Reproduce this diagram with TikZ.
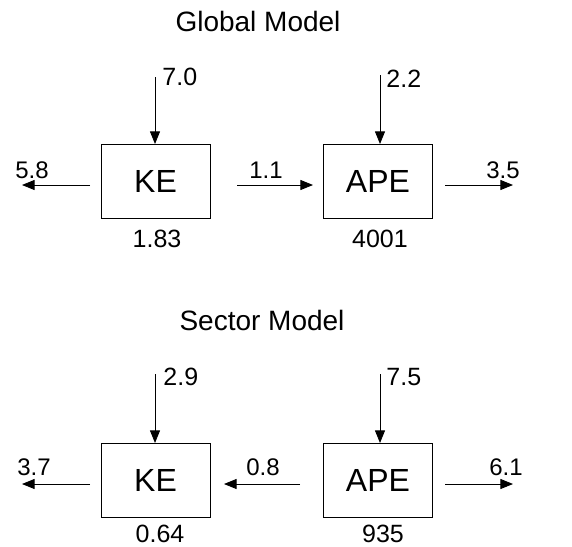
\documentclass[tikz,border=0pt]{standalone}
\usepackage{fontspec}
\setmainfont{Liberation Sans}
\usetikzlibrary{arrows.meta}
\tikzset {>={Triangle[length=6.3pt,width=5pt]}}

\begin{document}
\begin{tikzpicture}[x=0.5pt,y=-0.5pt,
  box/.style={draw,line width=0.5pt,minimum width=54.5pt,minimum height=37pt,inner sep=0pt,font=\fontsize{16}{18}\selectfont},
  flow/.style={->,line width=0.45pt},
  title/.style={font=\fontsize{14}{16}\selectfont,anchor=base,inner sep=0pt},
  num/.style={font=\fontsize{12.5}{14}\selectfont,inner sep=0pt,anchor=base},
  side/.style={font=\fontsize{12}{14}\selectfont,inner sep=0pt,anchor=base}]
\useasboundingbox (0,0) rectangle (572,546);
% global model
\node[title] (gTitle) at (258,32) {Global Model};
\node[box] (gKE) at (155.5,181.5) {KE};
\node[box] (gAPE) at (378,181.5) {APE};
\coordinate (gKEin) at (155,77);
\coordinate (gAPEin) at (380,75);
\draw[flow] (gKEin) -- (gKE.north -| gKEin);
\draw[flow] (gAPEin) -- (gAPE.north -| gAPEin);
\node[num,anchor=base west] (gKEinL) at (162,85) {7.0};
\node[num,anchor=base west] (gAPEinL) at (386,87) {2.2};
\coordinate (gKEa) at (90,185);
\coordinate (gKEb) at (22,185);
\draw[flow] (gKEa) -- (gKEb);
\node[side] (gKEoutL) at (32,178) {5.8};
\coordinate (gMida) at (237,185);
\coordinate (gMidb) at (313,185);
\draw[flow] (gMida) -- (gMidb);
\node[side] (gMidL) at (266,178) {1.1};
\coordinate (gAPEa) at (445,185);
\coordinate (gAPEb) at (513,185);
\draw[flow] (gAPEa) -- (gAPEb);
\node[side] (gAPEoutL) at (503,178) {3.5};
\node[num] (gKEval) at (157,247) {1.83};
\node[num] (gAPEval) at (380,247) {4001};
% sector model
\node[title] (sTitle) at (262,330) {Sector Model};
\node[box] (sKE) at (155.5,480.5) {KE};
\node[box] (sAPE) at (378,480.5) {APE};
\coordinate (sKEin) at (155,374);
\coordinate (sAPEin) at (380,374);
\draw[flow] (sKEin) -- (sKE.north -| sKEin);
\draw[flow] (sAPEin) -- (sAPE.north -| sAPEin);
\node[num,anchor=base west] (sKEinL) at (163,385) {2.9};
\node[num,anchor=base west] (sAPEinL) at (386,385) {7.5};
\coordinate (sKEa) at (90,484);
\coordinate (sKEb) at (22,484);
\draw[flow] (sKEa) -- (sKEb);
\node[side] (sKEoutL) at (34,475) {3.7};
\coordinate (sMida) at (300,484);
\coordinate (sMidb) at (224,484);
\draw[flow] (sMida) -- (sMidb);
\node[side] (sMidL) at (263,475) {0.8};
\coordinate (sAPEa) at (445,484);
\coordinate (sAPEb) at (513,484);
\draw[flow] (sAPEa) -- (sAPEb);
\node[side] (sAPEoutL) at (506,475) {6.1};
\node[num] (sKEval) at (160,542) {0.64};
\node[num] (sAPEval) at (383,542) {935};
\end{tikzpicture}
\end{document}
